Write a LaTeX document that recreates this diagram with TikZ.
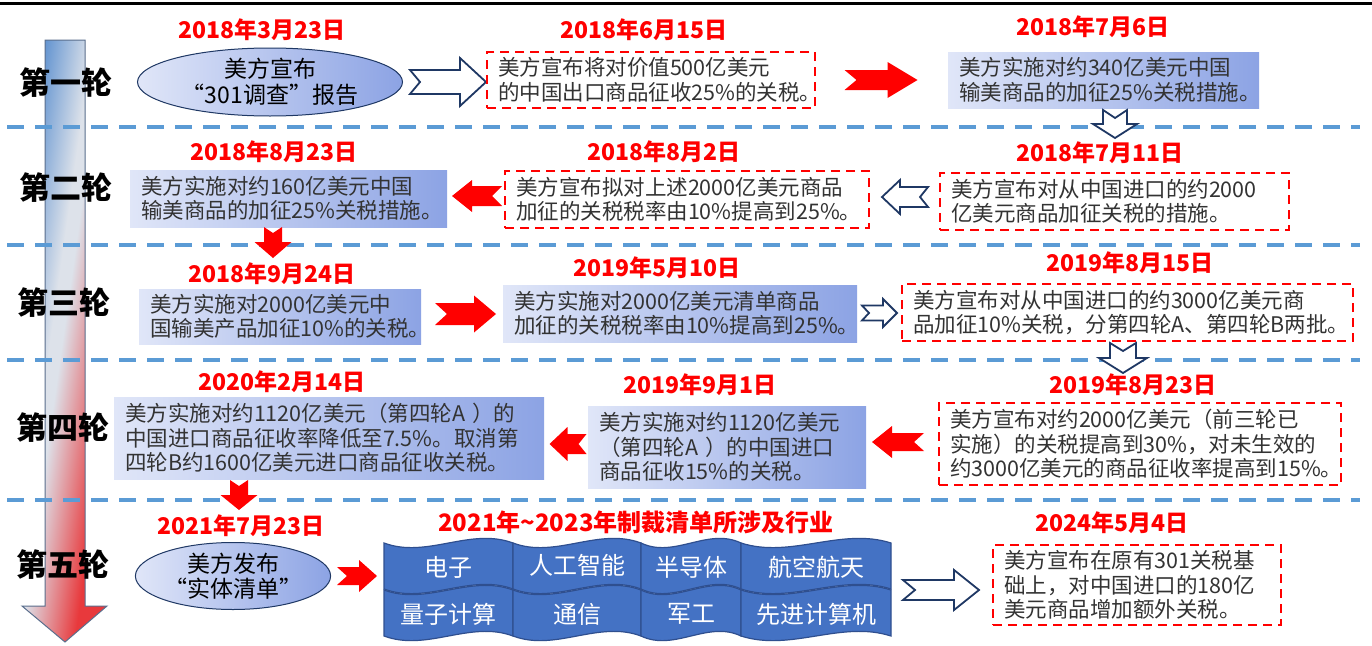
\documentclass[tikz,border=0pt]{standalone}
\usepackage{fontspec}
\setmainfont{Noto Sans CJK SC}
\usetikzlibrary{shapes.geometric,calc}
\definecolor{navy}{HTML}{1F3864}
\definecolor{dashblue}{HTML}{5B9BD5}
\definecolor{gleft}{HTML}{E0E6F8}
\definecolor{gright}{HTML}{8CA3E4}
\definecolor{txt}{HTML}{333333}
\definecolor{tileblue}{HTML}{4472C4}
\definecolor{tileedge}{HTML}{2F4F8F}
\definecolor{arrblue}{HTML}{4A84CB}
\definecolor{arrmid}{HTML}{DDE2EA}
\definecolor{arrred}{HTML}{E8393C}
\definecolor{arrline}{HTML}{5A6E8C}
\pgfdeclareverticalshading{arrowshade}{100bp}{color(0bp)=(arrred); color(28bp)=(arrred); color(51bp)=(arrmid); color(56bp)=(arrmid); color(80bp)=(arrblue); color(100bp)=(arrblue)}
\newcommand\wavetile[4]{%
  \path[tile] (#1,#3) .. controls ({#1+(#2-#1)/3},{#3+16}) and ({#1+2*(#2-#1)/3},{#3-16}) .. (#2,#3)
    -- (#2,#4) .. controls ({#1+2*(#2-#1)/3},{#4-16}) and ({#1+(#2-#1)/3},{#4+16}) .. (#1,#4) -- cycle;}
\tikzset{
  datelbl/.style={text=red, font=\fontsize{23}{27}\selectfont\bfseries, inner sep=0pt},
  roundlbl/.style={font=\fontsize{31}{35}\selectfont\bfseries, inner sep=0pt},
  txtbox/.style={text=txt, font=\fontsize{21.5}{24.5}\selectfont, align=left, inner xsep=11pt, inner ysep=0pt},
  dbox/.style={txtbox, draw=red, line width=2.4pt, dash pattern=on 9pt off 6pt},
  gbox/.style={txtbox, left color=gleft, right color=gright},
  ell/.style={ellipse, draw=navy, line width=1pt, left color=gleft, right color=gright, align=center, font=\fontsize{23}{25.5}\selectfont, inner sep=0pt},
  hollowarr/.style={draw=navy, line width=1.8pt, fill=white, line join=miter},
  redarr/.style={fill=red},
  tile/.style={fill=tileblue, draw=tileedge, line width=1.2pt},
  tiletxt/.style={text=white, font=\fontsize{24}{28}\selectfont, inner sep=0pt},
  sepline/.style={dashblue, line width=3.5pt, dash pattern=on 17pt off 11pt},
  pics/barrow/.style n args={5}{code={%
    \path[pic actions] ({-(#1)/2},{(#3)/2}) -- ({(#1)/2-(#4)},{(#3)/2}) -- ({(#1)/2-(#4)},{(#2)/2})
      -- ({(#1)/2},0) -- ({(#1)/2-(#4)},{-(#2)/2}) -- ({(#1)/2-(#4)},{-(#3)/2})
      -- ({-(#1)/2},{-(#3)/2}) -- ({-(#1)/2+(#5)},0) -- cycle;}},
}
\begin{document}
\begin{tikzpicture}[x=1pt,y=-1pt]
\useasboundingbox (0,0) rectangle (1372,645);
\fill[white] (0,0) rectangle (1372,645);
% big timeline arrow (diagonal gradient stretched over its box)
\begin{scope}
  \clip (45,40) -- (85,40) -- (85,606) -- (107,606) -- (65,642) -- (22,606) -- (45,606) -- cycle;
  \begin{scope}[transform canvas={shift={(22pt,-642pt)}, xscale=0.85, yscale=6.02}]
    \shade[shading=arrowshade, shading angle=45] (0pt,0pt) rectangle (100pt,100pt);
  \end{scope}
\end{scope}
\draw[arrline, line width=1pt] (45,40) -- (85,40) -- (85,606) -- (107,606) -- (65,642) -- (22,606) -- (45,606) -- cycle;
% separators
\draw[line width=3pt] (0,3) -- (1372,3);
\foreach \yy in {127,245,360,500} \draw[sepline] (7,\yy) -- (1360,\yy);
% round labels
\node[roundlbl] (r1) at (66,83) {第一轮};
\node[roundlbl] (r2) at (66,188) {第二轮};
\node[roundlbl] (r3) at (64,303) {第三轮};
\node[roundlbl] (r4) at (63,428) {第四轮};
\node[roundlbl] (r5) at (63,565) {第五轮};
% row 1
\node[datelbl] (d1) at (262,30) {2018年3月23日};
\node[ell, minimum width=265pt, minimum height=68pt] (e1) at (270,82) {美方宣布\\“301调查”报告};
\pic[hollowarr] at (448,82) {barrow={76}{48}{24}{26}{10}};
\node[datelbl] (d2) at (644,30) {2018年6月15日};
\node[dbox, minimum width=328pt, minimum height=56pt, text width=306pt] (b1) at (651,80) {美方宣布将对价值500亿美元\\的中国出口商品征收25\%的关税。};
\pic[redarr] at (881,80) {barrow={73}{36}{20}{30}{12}};
\node[datelbl] (d3) at (1093,27) {2018年7月6日};
\node[gbox, minimum width=311pt, minimum height=56pt, text width=289pt] (b2) at (1103.5,80) {美方实施对约340亿美元中国\\输美商品的加征25\%关税措施。};
\pic[hollowarr, rotate=-90] at (1115,124) {barrow={28}{44}{24}{14}{8}};
% row 2
\node[datelbl] (d4) at (274,152) {2018年8月23日};
\node[gbox, minimum width=317pt, minimum height=57pt, text width=295pt] (b4) at (288.5,198.5) {美方实施对约160亿美元中国\\输美商品的加征25\%关税措施。};
\pic[redarr, rotate=-90] at (273,242.5) {barrow={31}{37}{18}{16}{6}};
\pic[redarr, rotate=180] at (477,196) {barrow={50}{32}{20}{20}{10}};
\node[datelbl] (d5) at (664,152) {2018年8月2日};
\node[dbox, minimum width=364pt, minimum height=57pt, text width=342pt] (b5) at (687,199.5) {美方宣布拟对上述2000亿美元商品\\加征的关税税率由10\%提高到25\%。};
\pic[hollowarr, rotate=180] at (905,197) {barrow={46}{34}{20}{18}{8}};
\node[datelbl] (d6) at (1100,153) {2018年7月11日};
\node[dbox, minimum width=349pt, minimum height=57pt, text width=327pt] (b6) at (1114.5,201.5) {美方宣布对从中国进口的约2000\\亿美元商品加征关税的措施。};
% row 3
\node[datelbl] (d7) at (272,274) {2018年9月24日};
\node[gbox, minimum width=282pt, minimum height=55pt, text width=260pt] (b7) at (280,316.5) {美方实施对2000亿美元中\\国输美产品加征10\%的关税。};
\pic[redarr] at (465.5,314) {barrow={61}{37}{22}{22}{12}};
\node[datelbl] (d8) at (657,268) {2019年5月10日};
\node[gbox, minimum width=354pt, minimum height=57pt, text width=332pt] (b8) at (680,313.5) {美方实施对2000亿美元清单商品\\加征的关税税率由10\%提高到25\%。};
\pic[hollowarr] at (879.5,313) {barrow={35}{28}{15}{14}{7}};
\node[datelbl] (d9) at (1130,263) {2019年8月15日};
\node[dbox, minimum width=451pt, minimum height=57pt, text width=429pt] (b9) at (1127.5,312.5) {美方宣布对从中国进口的约3000亿美元商\\品加征10\%关税，分第四轮A、第四轮B两批。};
\pic[hollowarr, rotate=-90] at (1123,358) {barrow={30}{48}{26}{15}{8}};
% row 4
\node[datelbl] (d10) at (282,382) {2020年2月14日};
\node[gbox, minimum width=430pt, minimum height=82pt, text width=408pt] (b10) at (329,438) {美方实施对约1120亿美元（第四轮A ）的\\中国进口商品征收率降低至7.5\%。取消第\\四轮B约1600亿美元进口商品征收关税。};
\pic[redarr, rotate=-90] at (239,495) {barrow={30}{37}{18}{15}{6}};
\pic[redarr, rotate=180] at (568,444) {barrow={37}{34}{20}{18}{8}};
\node[datelbl] (d11) at (700,385) {2019年9月1日};
\node[gbox, minimum width=278pt, minimum height=82pt, text width=256pt] (b11) at (727,447) {美方实施对约1120亿美元\\（第四轮A ）的中国进口\\商品征收15\%的关税。};
\pic[redarr, rotate=180] at (898,442) {barrow={52}{32}{18}{20}{10}};
\node[datelbl] (d12) at (1133,385) {2019年8月23日};
\node[dbox, minimum width=402pt, minimum height=82pt, text width=380pt] (b12) at (1140,444) {美方宣布对约2000亿美元（前三轮已\\实施）的关税提高到30\%，对未生效的\\约3000亿美元的商品征收率提高到15\%。};
% row 5
\node[datelbl] (d13) at (241,526) {2021年7月23日};
\node[ell, minimum width=192pt, minimum height=67pt] (e2) at (233,576) {美方发布\\“实体清单”};
\pic[redarr] at (357,576) {barrow={40}{32}{18}{18}{10}};
\node[datelbl, font=\fontsize{24}{28}\selectfont\bfseries] (tt) at (636,522) {2021年\textasciitilde2023年制裁清单所涉及行业};
\wavetile{384}{513}{590}{636}
\wavetile{513}{641}{590}{636}
\wavetile{641}{741}{590}{636}
\wavetile{741}{891}{590}{636}
\wavetile{384}{513}{543}{589}
\wavetile{513}{641}{543}{589}
\wavetile{641}{741}{543}{589}
\wavetile{741}{891}{543}{589}
\node[tiletxt] (t1) at (448.5,567) {电子};
\node[tiletxt] (t2) at (577,565) {人工智能};
\node[tiletxt] (t3) at (691,567) {半导体};
\node[tiletxt] (t4) at (816,567) {航空航天};
\node[tiletxt] (t5) at (448.5,614) {量子计算};
\node[tiletxt] (t6) at (577,614) {通信};
\node[tiletxt] (t7) at (691,614) {军工};
\node[tiletxt] (t8) at (816,614) {先进计算机};
\pic[hollowarr] at (941,590) {barrow={76}{40}{20}{25}{12}};
\node[datelbl] (d14) at (1112,523) {2024年5月4日};
\node[dbox, minimum width=288pt, minimum height=80pt, text width=266pt] (b14) at (1137,585) {美方宣布在原有301关税基\\础上，对中国进口的180亿\\美元商品增加额外关税。};
\end{tikzpicture}
\end{document}
